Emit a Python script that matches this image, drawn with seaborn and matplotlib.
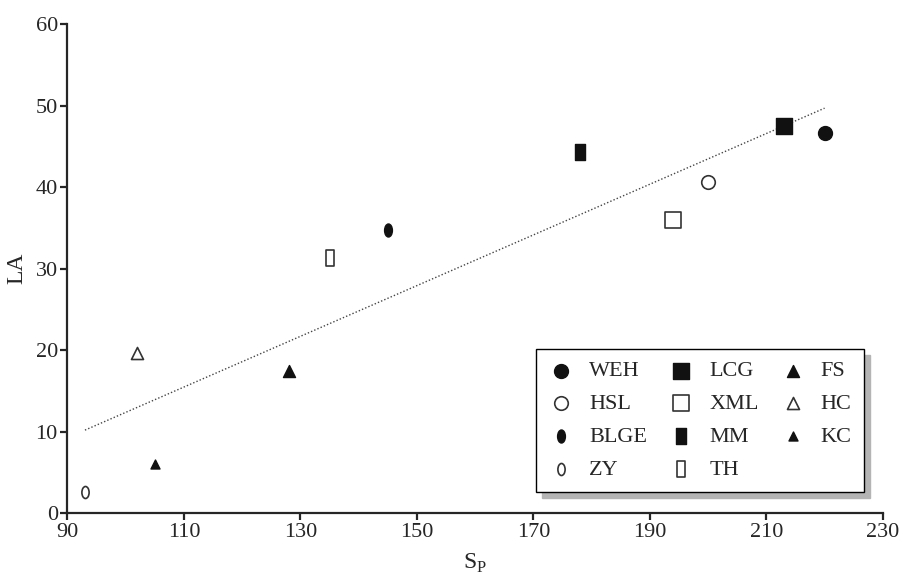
import numpy as np
import pandas as pd
import seaborn as sns
import matplotlib.pyplot as plt
from matplotlib.path import Path
from matplotlib.patches import Shadow
from matplotlib.transforms import Affine2D

# Site data
sites = ['WEH', 'HSL', 'BLGE', 'ZY', 'LCG', 'XML', 'MM', 'TH', 'FS', 'HC', 'KC']
sp = [220, 200, 145, 93, 213, 194, 178, 135, 128, 102, 105]
la = [46.7, 40.6, 34.7, 2.6, 47.5, 36.0, 44.3, 31.3, 17.4, 19.6, 6.0]

df = pd.DataFrame({'site': sites, 'SP': sp, 'LA': la})

# custom marker shapes
ellipse = Path.unit_circle().transformed(Affine2D().scale(0.6, 1.0))
tall_rect = Path([(-0.3, -0.5), (0.3, -0.5), (0.3, 0.5), (-0.3, 0.5), (-0.3, -0.5)],
                 [Path.MOVETO, Path.LINETO, Path.LINETO, Path.LINETO, Path.CLOSEPOLY])
thin_rect = Path([(-0.25, -0.5), (0.25, -0.5), (0.25, 0.5), (-0.25, 0.5), (-0.25, -0.5)],
                 [Path.MOVETO, Path.LINETO, Path.LINETO, Path.LINETO, Path.CLOSEPOLY])

# marker, filled, size
style = {
    'WEH': ('o', True, 100),
    'HSL': ('o', False, 95),
    'BLGE': (ellipse, True, 88),
    'ZY': (ellipse, False, 75),
    'LCG': ('s', True, 117),
    'XML': ('s', False, 117),
    'MM': (tall_rect, True, 117),
    'TH': (thin_rect, False, 117),
    'FS': ('^', True, 75),
    'HC': ('^', False, 75),
    'KC': ('^', True, 42),
}

sns.set_style('ticks')
plt.rcParams['font.family'] = ['Liberation Serif', 'DejaVu Serif']
plt.rcParams['mathtext.fontset'] = 'custom'
plt.rcParams['mathtext.rm'] = 'Liberation Serif'

fig, ax = plt.subplots(figsize=(9.12, 5.79), dpi=100)
fig.subplots_adjust(left=0.074, right=0.968, bottom=0.114, top=0.958)

# regression line
sns.regplot(data=df, x='SP', y='LA', scatter=False, ci=None, ax=ax,
            line_kws={'color': '#444444', 'lw': 1.0, 'ls': (0, (1, 1.5))})

for name in sites:
    m, filled, s = style[name]
    sub = df[df['site'] == name]
    sns.scatterplot(data=sub, x='SP', y='LA', marker=m, s=s, ax=ax,
                    color='#111111' if filled else 'white',
                    edgecolor='#111111' if filled else '#333333',
                    linewidth=1.0 if filled else 1.2, label=name, zorder=3)

ax.set_xlim(90, 230)
ax.set_ylim(0, 60)
ax.set_xticks(np.arange(90, 231, 20))
ax.set_yticks(np.arange(0, 61, 10))
sns.despine(ax=ax)
for sp_name in ['left', 'bottom']:
    ax.spines[sp_name].set_linewidth(1.6)
ax.tick_params(direction='out', length=5, width=1.6, labelsize=16, pad=2)
ax.set_xlabel('S$_\\mathrm{P}$', fontsize=17, labelpad=7)
ax.set_ylabel('LA', fontsize=17, labelpad=6)

leg = ax.legend(ncol=3, loc='lower right', bbox_to_anchor=(0.977, 0.043),
                borderaxespad=0, fontsize=16, frameon=True, fancybox=False,
                edgecolor='black', framealpha=1, labelspacing=0.55,
                handlelength=1.2, handletextpad=0.65, columnspacing=0.95,
                borderpad=0.55)
leg.get_frame().set_linewidth(1.0)

# grey drop shadow behind the legend box
fig.canvas.draw()
shadow = Shadow(leg.legendPatch, 4.5, -4.5, color='#b4b4b4', alpha=1)
shadow.set_zorder(leg.get_zorder() - 0.1)
ax.add_artist(shadow)

fig.savefig('out.png', dpi=100)
